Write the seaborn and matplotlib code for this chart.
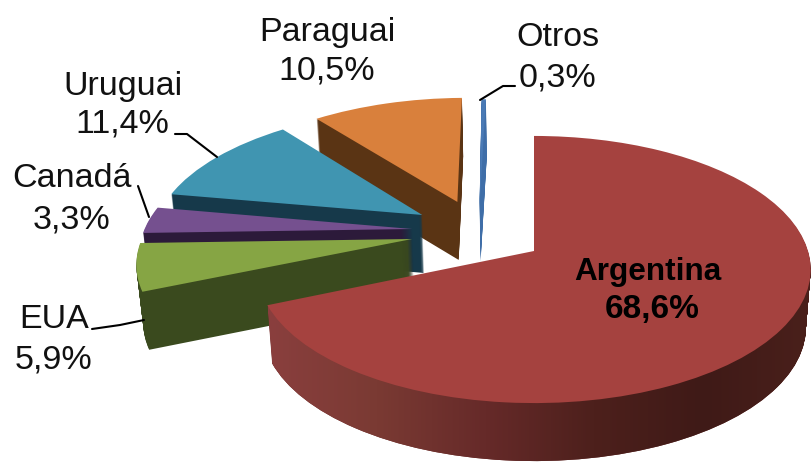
import numpy as np
import seaborn as sns
from matplotlib import pyplot as plt
from matplotlib.path import Path
from matplotlib.transforms import Bbox, Transform, TransformedBbox

paises = ["Argentina", "EUA", "Canadá", "Uruguai", "Paraguai", "Otros"]
valores = [68.6, 5.9, 3.3, 11.4, 10.5, 0.3]
caras = ["#a5423f", "#86a544", "#75508f", "#4095b1", "#d9803c", "#4a7ab5"]
paredes = ["#6b2c2a", "#3a4a1e", "#2c1a3a", "#16394a", "#5a3414", "#3f6ea8"]

# where each slice's tip sits on the pie plane (Argentina is the origin)
puntas = [(0, 0), (-.45, .093), (-.455, .172), (-.424, .286), (-.295, .395), (-.209, .38)]
# back to front
orden = [5, 4, 3, 2, 1, 0]

# camera: screen pixels from the pie plane
CX, CY = 534, 252
F, G, P = 274, 131, .1386
FUGA = .0003
GROSOR = 58


class Perspectiva(Transform):
    input_dims = 2
    output_dims = 2

    def __init__(self, z):
        super().__init__()
        self.z = z

    def transform_non_affine(self, values):
        x, y = np.asarray(values).T
        w = 1 + P * y
        return np.column_stack([CX + F * x / w * (1 - FUGA * self.z), CY - G * y / w + self.z])


sns.set_theme(style="white")
plt.rcParams['font.family'] = ['Liberation Sans', 'DejaVu Sans']

fig = plt.figure(figsize=(8.12, 4.64), dpi=100)
ax = fig.add_axes([0, 0, 1, 1])

# the right edge of Paraguai stays straight, no wall showing beside it
corte = TransformedBbox(Bbox([[0, 0], [459, 464]]), ax.transData)

zs = list(range(GROSOR, 0, -1)) + [0]
clip_verts = []
for z in zs:
    colores = caras if z == 0 else paredes
    wedges, _ = ax.pie(valores, colors=colores, startangle=90, counterclock=False,
                       wedgeprops=dict(linewidth=0))
    for i, w in enumerate(wedges):
        w.set_center(puntas[i])
        w.set_transform(Perspectiva(z) + ax.transData)
        w.set_zorder(orden.index(i) * 1000 + 2 if z == 0 else orden.index(i) * 1000)
        if paises[i] == "Paraguai":
            w.set_clip_box(corte)
        if i == 0 and z > 0:
            clip_verts.append(Perspectiva(z).transform_path(w.get_path()))

# the wall of Argentina gets darker to the right
degradado = sns.blend_palette(["#8a3f3e", "#7a3a33", "#662a29", "#4d201c", "#3f1a17", "#4a201b"],
                              as_cmap=True)
im = ax.imshow(np.linspace(0, 1, 256)[None, :], cmap=degradado, extent=(268, 812, 464, 200),
               aspect="auto", zorder=orden.index(0) * 1000 + 1)
im.set_clip_path(Path.make_compound_path(*clip_verts), transform=ax.transData)

# leader lines
ax.plot([175, 187, 217], [135, 135, 158], color="black", lw=1.5, zorder=9000)
ax.plot([138, 149], [187, 218], color="black", lw=1.5, zorder=9000)
ax.plot([92, 120, 144], [330, 326, 321], color="black", lw=1.5, zorder=9000)
ax.plot([480, 503, 515], [101, 87, 87], color="black", lw=1.5, zorder=9000)

pos_nombre = [(648, 272), (54, 320), (72, 179), (123, 87), (327, 32), (558, 37)]
pos_valor = [(652, 310), (54, 360), (72, 220), (122, 124), (327, 71), (558, 78)]
for i, pais in enumerate(paises):
    txt = f"{valores[i]:.1f}%".replace(".", ",")
    if i == 0:
        ax.text(*pos_nombre[i], pais, fontsize=22.7, fontweight="bold", color="black", ha="center", va="center", zorder=9001)
        ax.text(*pos_valor[i], txt, fontsize=24, fontweight="bold", color="black", ha="center", va="center", zorder=9001)
    else:
        ax.text(*pos_nombre[i], pais, fontsize=24.5, ha="center", va="center", color="#111111", zorder=9001)
        ax.text(*pos_valor[i], txt, fontsize=24.5, ha="center", va="center", color="#111111", zorder=9001)

ax.set_aspect("auto")
ax.set_xlim(0, 812)
ax.set_ylim(464, 0)
ax.axis("off")

fig.savefig("out.png", dpi=100)
